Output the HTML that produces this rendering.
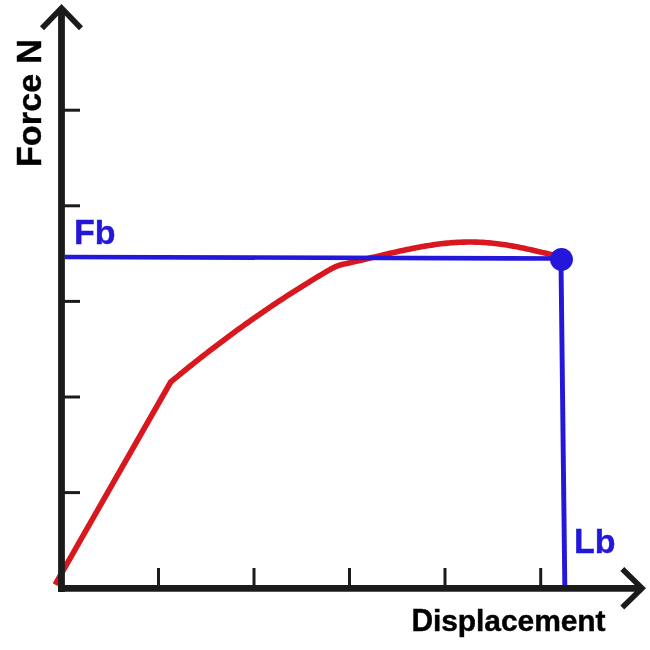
<!DOCTYPE html>
<html><head><meta charset="utf-8"><style>
html,body{margin:0;padding:0;background:#fff;}
svg{display:block;will-change:transform;}
text{font-family:"Liberation Sans",sans-serif;font-weight:bold;}
</style></head><body>
<svg width="650" height="650" viewBox="0 0 650 650">
<rect width="650" height="650" fill="#ffffff"/>
<path d="M55.1,584.60 L170.7,382.00 L173.0,380.09 L175.0,378.44 L177.0,376.79 L179.0,375.15 L181.0,373.52 L183.0,371.89 L185.0,370.27 L187.0,368.65 L189.0,367.04 L191.0,365.44 L193.0,363.84 L195.0,362.25 L197.0,360.67 L199.0,359.09 L201.0,357.52 L203.0,355.96 L205.0,354.40 L207.0,352.85 L209.0,351.30 L211.0,349.76 L213.0,348.23 L215.0,346.70 L217.0,345.18 L219.0,343.67 L221.0,342.16 L223.0,340.66 L225.0,339.16 L227.0,337.67 L229.0,336.19 L231.0,334.71 L233.0,333.24 L235.0,331.78 L237.0,330.32 L239.0,328.87 L241.0,327.43 L243.0,325.99 L245.0,324.56 L247.0,323.13 L249.0,321.71 L251.0,320.30 L253.0,318.89 L255.0,317.49 L257.0,316.10 L259.0,314.71 L261.0,313.33 L263.0,311.95 L265.0,310.58 L267.0,309.22 L269.0,307.87 L271.0,306.52 L273.0,305.17 L275.0,303.83 L277.0,302.50 L279.0,301.18 L281.0,299.86 L283.0,298.55 L285.0,297.24 L287.0,295.94 L289.0,294.65 L291.0,293.36 L293.0,292.08 L295.0,290.81 L297.0,289.54 L299.0,288.28 L301.0,287.03 L303.0,285.78 L305.0,284.53 L307.0,283.30 L309.0,282.07 L311.0,280.84 L313.0,279.63 L315.0,278.42 L317.0,277.21 L319.0,276.01 L321.0,274.82 L323.0,273.64 L325.0,272.46 L327.0,271.28 L329.0,270.12 L331.0,268.96 L333.0,267.87 L335.0,266.92 L337.0,266.09 L339.0,265.39 L341.0,264.81 L343.0,264.35 L345.0,263.89 L347.0,263.44 L349.0,262.98 L351.0,262.52 L353.0,262.06 L355.0,261.59 L357.0,261.13 L359.0,260.66 L361.0,260.19 L363.0,259.72 L365.0,259.24 L367.0,258.77 L369.0,258.29 L371.0,257.82 L373.0,257.34 L375.0,256.87 L377.0,256.39 L379.0,255.92 L381.0,255.44 L383.0,254.97 L385.0,254.50 L387.0,254.03 L389.0,253.56 L391.0,253.10 L393.0,252.64 L395.0,252.19 L397.0,251.74 L399.0,251.29 L401.0,250.85 L403.0,250.41 L405.0,249.98 L407.0,249.56 L409.0,249.14 L411.0,248.73 L413.0,248.33 L415.0,247.94 L417.0,247.56 L419.0,247.18 L421.0,246.82 L423.0,246.46 L425.0,246.12 L427.0,245.79 L429.0,245.47 L431.0,245.16 L433.0,244.86 L435.0,244.57 L437.0,244.30 L439.0,244.05 L441.0,243.80 L443.0,243.57 L445.0,243.36 L447.0,243.16 L449.0,242.97 L451.0,242.81 L453.0,242.65 L455.0,242.52 L457.0,242.40 L459.0,242.29 L461.0,242.21 L463.0,242.14 L465.0,242.09 L467.0,242.05 L469.0,242.04 L471.0,242.04 L473.0,242.06 L475.0,242.09 L477.0,242.15 L479.0,242.22 L481.0,242.31 L483.0,242.42 L485.0,242.55 L487.0,242.70 L489.0,242.86 L491.0,243.04 L493.0,243.24 L495.0,243.45 L497.0,243.69 L499.0,243.94 L501.0,244.20 L503.0,244.48 L505.0,244.78 L507.0,245.09 L509.0,245.42 L511.0,245.76 L513.0,246.12 L515.0,246.49 L517.0,246.87 L519.0,247.26 L521.0,247.67 L523.0,248.08 L525.0,248.51 L527.0,248.94 L529.0,249.38 L531.0,249.83 L533.0,250.28 L535.0,250.74 L537.0,251.21 L539.0,251.67 L541.0,252.14 L543.0,252.61 L545.0,253.07 L547.0,253.54 L549.0,254.00 L551.0,254.45 L553.0,254.90 L555.0,255.34 L557.0,255.77 L558.0,255.98" fill="none" stroke="#d8181e" stroke-width="5.6" stroke-linejoin="round"/>
<g stroke="#1b1b1b" fill="none">
<line x1="61.5" y1="8" x2="61.5" y2="592" stroke-width="6.8"/>
<line x1="58" y1="588.3" x2="642" y2="588.3" stroke-width="6.8"/>
<polyline points="42,28.3 61.5,8 81,28.3" stroke-width="5.6" stroke-linejoin="miter"/>
<polyline points="622.3,569 642,588.3 622.3,607.6" stroke-width="5.6" stroke-linejoin="miter"/>
<g stroke-width="3">
<line x1="64" y1="110.2" x2="80" y2="110.2"/>
<line x1="64" y1="205.8" x2="80" y2="205.8"/>
<line x1="64" y1="301.4" x2="80" y2="301.4"/>
<line x1="64" y1="397" x2="80" y2="397"/>
<line x1="64" y1="492.6" x2="80" y2="492.6"/>
<line x1="158.5" y1="568" x2="158.5" y2="586"/>
<line x1="254" y1="568" x2="254" y2="586"/>
<line x1="349.5" y1="568" x2="349.5" y2="586"/>
<line x1="445" y1="568" x2="445" y2="586"/>
<line x1="540.7" y1="568" x2="540.7" y2="586"/>
</g>
</g>
<g stroke="#2317d9" fill="none">
<line x1="65" y1="257.0" x2="560" y2="258.5" stroke-width="4.6"/>
<line x1="561" y1="262" x2="564.8" y2="585" stroke-width="4.9"/>
</g>
<circle cx="561.5" cy="259.4" r="11.4" fill="#2317d9"/>
<text transform="translate(411.4,630.8) scale(1,1.04)" x="0.0" y="0" font-size="30" fill="#000000" stroke="#000000" stroke-width="0.4">D</text>
<text transform="translate(411.4,630.8) scale(1,1.0)" x="21.59 29.84 46.44 64.69 72.94 89.55 106.15 122.76 149.35 165.96 184.2" y="0" font-size="30" fill="#000000" stroke="#000000" stroke-width="0.4">isplacement</text>
<text transform="translate(40.9,167.1) rotate(-90) scale(1,1.04)" x="0.0" y="0" font-size="34" fill="#000000" stroke="#000000" stroke-width="0.4">F</text>
<text transform="translate(40.9,167.1) rotate(-90) scale(1,1.0)" x="20.97 41.94 55.37 74.48 93.59" y="0" font-size="34" fill="#000000" stroke="#000000" stroke-width="0.4">orce </text>
<text transform="translate(40.9,167.1) rotate(-90) scale(1,1.04)" x="103.23" y="0" font-size="34" fill="#000000" stroke="#000000" stroke-width="0.4">N</text>
<text transform="translate(74.0,244.4) scale(1,1.04)" x="0.0" y="0" font-size="34" fill="#2317d9" stroke="#2317d9" stroke-width="0.4">F</text>
<text transform="translate(74.0,244.4) scale(1,1.0)" x="20.77" y="0" font-size="34" fill="#2317d9" stroke="#2317d9" stroke-width="0.4">b</text>
<text transform="translate(574.1,553.4) scale(1,1.04)" x="0.0" y="0" font-size="34" fill="#2317d9" stroke="#2317d9" stroke-width="0.4">L</text>
<text transform="translate(574.1,553.4) scale(1,1.0)" x="20.77" y="0" font-size="34" fill="#2317d9" stroke="#2317d9" stroke-width="0.4">b</text>
</svg>
</body></html>
